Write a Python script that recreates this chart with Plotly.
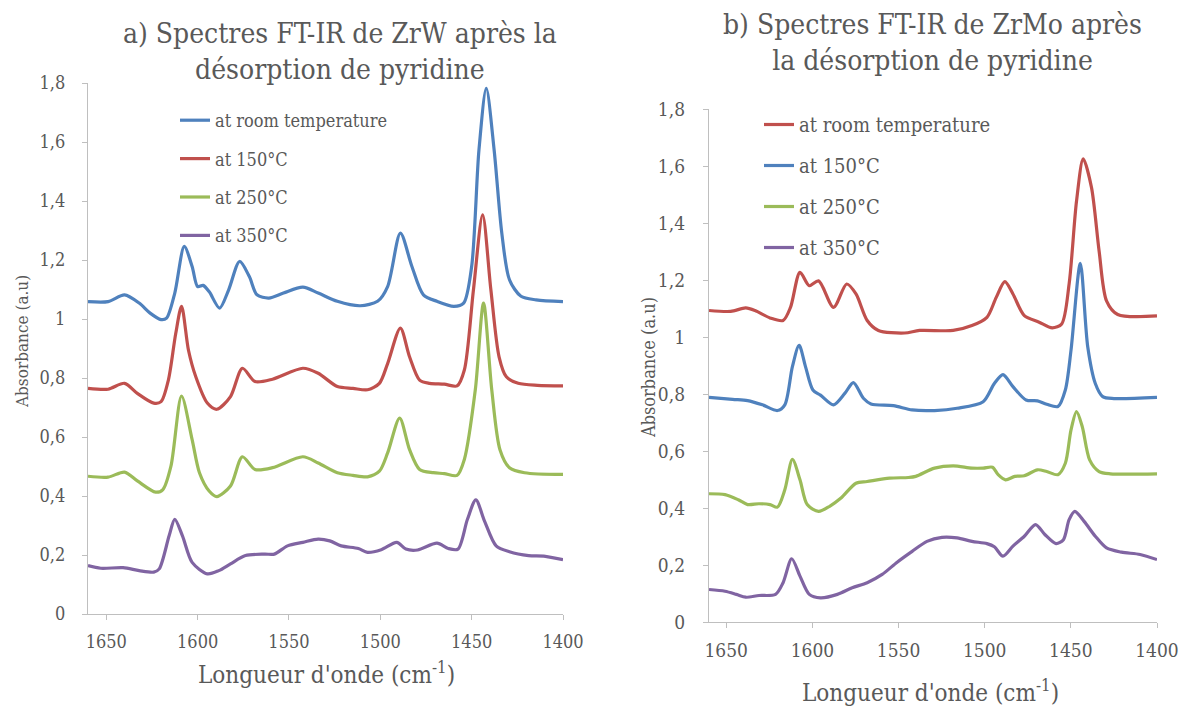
import plotly.graph_objects as go

# ---------------- Data: a) ZrW ----------------
zrw_rt_x = [1660, 1649, 1640, 1632, 1626, 1620, 1617, 1612.5, 1607.3, 1603, 1600, 1597, 1593.7, 1588, 1583, 1577,
            1571.7, 1567.5, 1561, 1553, 1542.4, 1534, 1523.5, 1511, 1501.5, 1496, 1489, 1482.7, 1476.4, 1469,
            1459.7, 1454.4, 1450, 1446, 1442, 1437.7, 1433.5, 1429.3, 1423, 1414.7, 1400]
zrw_rt_y = [1.059, 1.059, 1.082, 1.054, 1.02, 0.998, 1.003, 1.088, 1.246, 1.178, 1.11, 1.114, 1.093, 1.037, 1.099, 1.195,
            1.144, 1.082, 1.071, 1.088, 1.108, 1.088, 1.06, 1.045, 1.06, 1.11, 1.291, 1.178, 1.082, 1.06,
            1.043, 1.054, 1.178, 1.573, 1.782, 1.573, 1.291, 1.133, 1.077, 1.065, 1.059]

zrw_150_x = [1660, 1649, 1640, 1633, 1624, 1620, 1616, 1612, 1608.8, 1605, 1601, 1594.7, 1589.5, 1582, 1575.5,
             1568.6, 1559, 1542.4, 1534, 1523.5, 1515, 1507, 1500.5, 1496, 1489, 1484, 1478.5, 1473, 1465, 1458,
             1454, 1449, 1444, 1439.5, 1435, 1431, 1424.5, 1414, 1400]
zrw_150_y = [0.765, 0.762, 0.782, 0.748, 0.715, 0.72, 0.793, 0.95, 1.043, 0.894, 0.804, 0.715, 0.694, 0.737, 0.833,
             0.788, 0.796, 0.833, 0.816, 0.771, 0.765, 0.76, 0.782, 0.849, 0.969, 0.872, 0.793, 0.782, 0.779, 0.773,
             0.827, 1.1, 1.353, 1.1, 0.872, 0.804, 0.782, 0.775, 0.773]

zrw_250_x = [1660, 1649, 1640, 1633, 1623, 1619, 1614.6, 1608.8, 1603, 1599, 1593.7, 1589.5, 1582, 1575.5, 1568.6,
             1559, 1542.4, 1534, 1523.5, 1515, 1507, 1500.5, 1496, 1489.4, 1484, 1478.5, 1471, 1465, 1458, 1454,
             1448, 1443.5, 1439, 1434.5, 1429.3, 1421, 1400]
zrw_250_y = [0.467, 0.464, 0.481, 0.451, 0.413, 0.422, 0.501, 0.739, 0.591, 0.479, 0.417, 0.398, 0.434, 0.533, 0.49,
             0.496, 0.533, 0.512, 0.479, 0.47, 0.465, 0.484, 0.546, 0.664, 0.557, 0.49, 0.479, 0.476, 0.47, 0.524,
             0.76, 1.054, 0.76, 0.557, 0.496, 0.479, 0.473]

zrw_350_x = [1660, 1653, 1640.8, 1632, 1624, 1621, 1615.6, 1612.5, 1608.3, 1603, 1594.7, 1588.4, 1582, 1573.8,
             1563.3, 1558, 1550.8, 1542.4, 1534, 1527.7, 1521.4, 1512, 1507, 1499.5, 1491, 1486, 1479.6, 1469,
             1462.8, 1457.5, 1452.3, 1447.7, 1443, 1436.6, 1429.3, 1418.8, 1410.5, 1400]
zrw_350_y = [0.164, 0.155, 0.157, 0.147, 0.142, 0.153, 0.265, 0.321, 0.265, 0.175, 0.136, 0.147, 0.17, 0.198,
             0.203, 0.203, 0.231, 0.243, 0.254, 0.248, 0.231, 0.222, 0.209, 0.218, 0.243, 0.22, 0.217, 0.24,
             0.222, 0.22, 0.321, 0.387, 0.316, 0.231, 0.211, 0.198, 0.196, 0.184]

# ---------------- Data: b) ZrMo ----------------
zrmo_rt_x = [1660, 1647.4, 1638.7, 1633.3, 1624.6, 1617, 1612.7, 1607.2, 1601.8, 1596.4, 1587.7, 1580.1, 1574.7,
             1568.2, 1561.7, 1546.5, 1537.8, 1518.3, 1507.4, 1498.7, 1493.3, 1488.3, 1483.6, 1477, 1468.4, 1460.8,
             1455.3, 1451, 1446.7, 1442.8, 1438, 1433.6, 1429.3, 1422.8, 1400]
zrmo_rt_y = [1.093, 1.09, 1.102, 1.093, 1.067, 1.058, 1.104, 1.227, 1.18, 1.197, 1.104, 1.186, 1.151,
             1.058, 1.023, 1.014, 1.023, 1.023, 1.04, 1.069, 1.139, 1.194, 1.151, 1.075, 1.052, 1.032,
             1.046, 1.186, 1.477, 1.625, 1.524, 1.302, 1.127, 1.079, 1.074]

zrmo_150_x = [1660, 1646.3, 1637.6, 1629, 1620.3, 1616, 1611.6, 1607.7, 1604, 1599.7, 1595.3, 1587.7, 1581.2,
              1576.2, 1570.4, 1566, 1553, 1542.1, 1529.1, 1516, 1500.9, 1494.4, 1489.4, 1483.6, 1476, 1469.4,
              1464, 1457.5, 1453.2, 1449.9, 1444.5, 1440.2, 1435.8, 1431.5, 1425, 1400]
zrmo_150_y = [0.788, 0.781, 0.777, 0.762, 0.742, 0.762, 0.896, 0.971, 0.896, 0.814, 0.796, 0.762, 0.802,
              0.84, 0.785, 0.765, 0.759, 0.744, 0.742, 0.75, 0.773, 0.837, 0.868, 0.826, 0.779, 0.776,
              0.764, 0.756, 0.814, 0.954, 1.258, 0.966, 0.837, 0.791, 0.784, 0.788]

zrmo_250_x = [1660, 1650.7, 1643, 1637.6, 1631, 1624.6, 1620.3, 1616, 1611.6, 1607.2, 1603, 1596.4, 1590, 1583.4,
              1574.7, 1568.2, 1555.2, 1544.3, 1540, 1529.1, 1518.3, 1507.4, 1500.9, 1495.5, 1492.2, 1487.9,
              1482.5, 1477, 1469.4, 1464, 1457.5, 1453.2, 1449.9, 1446.7, 1443.4, 1439.1, 1433.6, 1427.1, 1400]
zrmo_250_y = [0.45, 0.447, 0.429, 0.412, 0.415, 0.412, 0.403, 0.464, 0.571, 0.499, 0.412, 0.388, 0.406, 0.435,
              0.487, 0.493, 0.505, 0.507, 0.511, 0.54, 0.548, 0.54, 0.54, 0.543, 0.517, 0.499,
              0.511, 0.513, 0.534, 0.528, 0.517, 0.557, 0.674, 0.738, 0.686, 0.569, 0.528, 0.52, 0.52]

zrmo_350_x = [1660, 1650.7, 1644.1, 1638.7, 1631, 1621.4, 1617, 1612, 1607.2, 1601.8, 1595.3, 1585.5, 1576.9,
              1568.2, 1559.5, 1550.8, 1542.1, 1533.5, 1524.8, 1516, 1507.4, 1498.7, 1494.4, 1489.4, 1483.6,
              1477, 1470.5, 1465.1, 1458.6, 1454.3, 1451, 1447.7, 1442.3, 1435.8, 1429.3, 1420.6, 1409.8, 1400]
zrmo_350_y = [0.114, 0.108, 0.097, 0.087, 0.093, 0.097, 0.138, 0.222, 0.161, 0.097, 0.085, 0.097, 0.12,
              0.138, 0.167, 0.21, 0.248, 0.283, 0.297, 0.295, 0.283, 0.275, 0.264, 0.231, 0.266,
              0.301, 0.342, 0.307, 0.275, 0.289, 0.359, 0.388, 0.353, 0.301, 0.26, 0.245, 0.237, 0.219]

series_names = ["at room temperature", "at 150°C", "at 250°C", "at 350°C"]
x_tickvals = [1650, 1600, 1550, 1500, 1450, 1400]
x_ticktext = ["1650", "1600", "1550", "1500", "1450", "1400"]
y_tickvals = [0, 0.2, 0.4, 0.6, 0.8, 1.0, 1.2, 1.4, 1.6, 1.8]
y_ticktext = ["0", "0,2", "0,4", "0,6", "0,8", "1", "1,2", "1,4", "1,6", "1,8"]

BLUE = "#4F81BD"
RED = "#C0504D"
GREEN = "#9BBB59"
PURPLE = "#8064A2"
GREY = "#595959"
AXC = "#BFBFBF"
FONT = "DejaVu Serif Condensed, DejaVu Serif"

fig = go.Figure()


def add(x, y, name, color, xa, ya, leg):
    fig.add_trace(go.Scatter(
        x=x, y=y, name=name, mode="lines",
        line=dict(color=color, width=3.2, shape="spline", smoothing=0.8),
        xaxis=xa, yaxis=ya, legend=leg, legendgroup=leg + name,
        hoverinfo="x+y+name"))


left = [(zrw_rt_x, zrw_rt_y, BLUE), (zrw_150_x, zrw_150_y, RED),
        (zrw_250_x, zrw_250_y, GREEN), (zrw_350_x, zrw_350_y, PURPLE)]
right = [(zrmo_rt_x, zrmo_rt_y, RED), (zrmo_150_x, zrmo_150_y, BLUE),
         (zrmo_250_x, zrmo_250_y, GREEN), (zrmo_350_x, zrmo_350_y, PURPLE)]
for (x, y, c), n in zip(left, series_names):
    add(x, y, n, c, "x", "y", "legend")
for (x, y, c), n in zip(right, series_names):
    add(x, y, n, c, "x2", "y2", "legend2")

W, H = 1184, 707


def px(xs):
    return xs / W


def py(ys):
    return 1 - ys / H


def xaxis(domain, anchor, size):
    return dict(domain=domain, anchor=anchor, range=[1660, 1400], tickvals=x_tickvals, ticktext=x_ticktext,
                showline=True, linecolor=AXC, linewidth=1.3, ticks="outside", ticklen=5, tickcolor=AXC,
                showgrid=False, zeroline=False, ticklabelstandoff=6, automargin=False,
                ticklabeloverflow="allow",
                tickfont=dict(family=FONT, size=size, color=GREY), fixedrange=True)


def yaxis(domain, anchor, size, standoff):
    return dict(domain=domain, anchor=anchor, range=[0, 1.8], tickvals=y_tickvals, ticktext=y_ticktext,
                showline=True, linecolor=AXC, linewidth=1.3, ticks="outside", ticklen=5, tickcolor=AXC,
                showgrid=False, zeroline=False, ticklabelstandoff=standoff, automargin=False,
                tickfont=dict(family=FONT, size=size, color=GREY), fixedrange=True)


fig.update_layout(
    template="none",
    width=W, height=H,
    margin=dict(l=0, r=0, t=0, b=0, autoexpand=False),
    paper_bgcolor="white", plot_bgcolor="white",
    font=dict(family=FONT, color=GREY),
    xaxis=xaxis([px(88), px(563)], "y", 18),
    yaxis=yaxis([py(614), py(83)], "x", 18, 13),
    xaxis2=xaxis([px(709), px(1157)], "y2", 19),
    yaxis2=yaxis([py(622), py(109)], "x2", 19, 14),
    legend=dict(x=px(175), y=py(102), xanchor="left", yanchor="top", traceorder="grouped", tracegroupgap=12,
                bgcolor="rgba(0,0,0,0)", font=dict(family=FONT, size=18, color=GREY)),
    legend2=dict(x=px(759), y=py(105), xanchor="left", yanchor="top", traceorder="grouped", tracegroupgap=12,
                 bgcolor="rgba(0,0,0,0)", font=dict(family=FONT, size=20, color=GREY)),
    showlegend=True,
)

annots = [
    dict(text="a) Spectres FT-IR de ZrW après la<br>désorption de pyridine", x=px(340), y=py(51),
         font=dict(size=28)),
    dict(text="b) Spectres FT-IR de ZrMo après<br>la désorption de pyridine", x=px(932), y=py(43),
         font=dict(size=28)),
    dict(text="Longueur d'onde (cm<sup>-1</sup>)", x=px(326), y=py(673), font=dict(size=24)),
    dict(text="Longueur d'onde (cm<sup>-1</sup>)", x=px(930), y=py(691), font=dict(size=24)),
    dict(text="Absorbance (a.u)", x=px(22), y=py(342), textangle=-90, font=dict(size=17)),
    dict(text="Absorbance (a.u)", x=px(648), y=py(368), textangle=-90, font=dict(size=18)),
]
for a in annots:
    a["font"].update(family=FONT, color=GREY)
    fig.add_annotation(xref="paper", yref="paper", showarrow=False, xanchor="center", yanchor="middle", **a)

# remove the page's default body margin so the 1184x707 figure fills the window exactly
fig.write_html("out.html", config={"displayModeBar": False},
               post_script="document.body.style.margin='0';")
